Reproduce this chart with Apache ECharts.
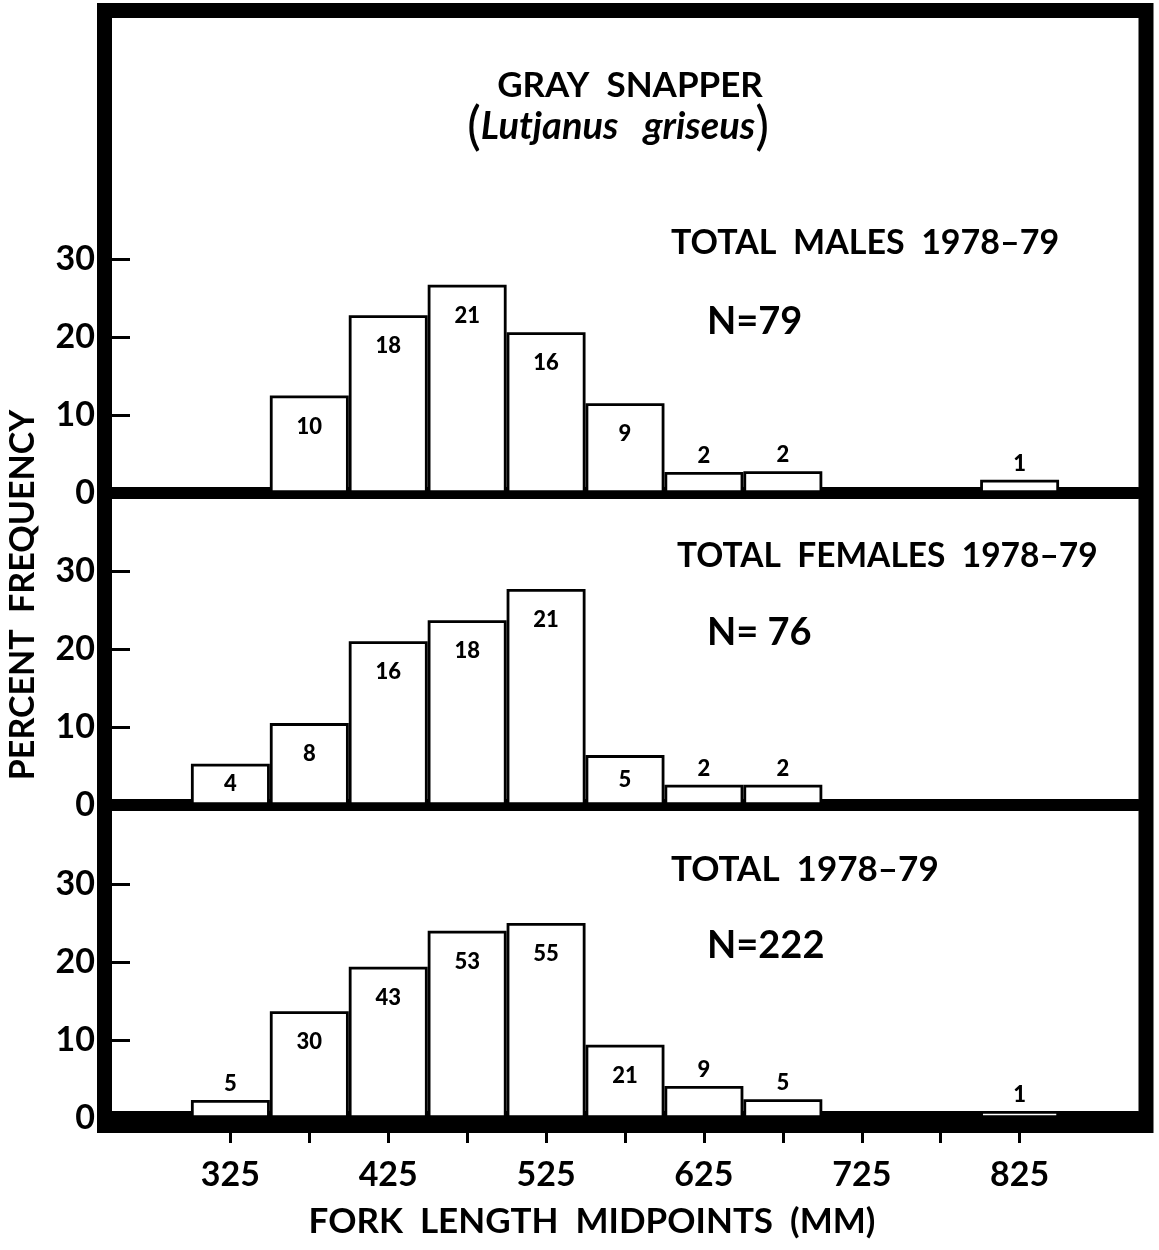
<!DOCTYPE html>
<html>
<head>
<meta charset="utf-8">
<title>Gray Snapper</title>
<script src="https://cdn.jsdelivr.net/npm/echarts@6.0.0/dist/echarts.min.js"></script>
<style>
html, body { margin: 0; padding: 0; background: #fff; }
#chart { width: 1159px; height: 1250px; }
</style>
</head>
<body>
<div id="chart"></div>
<script>
// fork length bins (mm midpoints)
var bins = ['275', '325', '375', '425', '475', '525', '575', '625', '675', '725', '775', '825', '875'];
var tickLabels = ['325', '425', '525', '625', '725', '825'];
var yTicks = [0, 10, 20, 30];

var malesPct = [null, null, 12.5, 22.8, 26.7, 20.6, 11.5, 2.7, 2.8, null, null, 1.7, null];
var malesCount = ['', '', '10', '18', '21', '16', '9', '2', '2', '', '', '1', ''];
var femalesPct = [null, 5.3, 10.5, 21.0, 23.7, 27.7, 6.4, 2.6, 2.6, null, null, null, null];
var femalesCount = ['', '4', '8', '16', '18', '21', '5', '2', '2', '', '', '', ''];
var totalPct = [null, 2.3, 13.7, 19.4, 24.0, 25.0, 9.4, 4.1, 2.4, null, null, 0.9, null];
var totalCount = ['', '5', '30', '43', '53', '55', '21', '9', '5', '', '', '1', ''];

var FONT = 'Lato';

// small bars get the count above, medium ones in the middle, the rest near the top
function labelPos(v) {
  if (v < 5) return { position: 'top', distance: 5 };
  if (v < 8) return { position: 'inside' };
  return { position: 'insideTop', distance: 20 };
}

function barSeries(idx, pct, counts) {
  return {
    type: 'bar',
    xAxisIndex: idx,
    yAxisIndex: idx,
    barCategoryGap: '0%',
    silent: true,
    data: pct.map(function (v) {
      if (v === null) return '-';
      return { value: v, label: labelPos(v) };
    }),
    itemStyle: { color: '#fff', borderColor: '#000', borderWidth: 2.8 },
    label: {
      show: true,
      color: '#000',
      fontSize: 22,
      fontWeight: 900,
      fontFamily: FONT,
      formatter: function (p) { return counts[p.dataIndex]; }
    }
  };
}

function xAxisFor(idx, lineWidth, showTicks) {
  return {
    type: 'category',
    gridIndex: idx,
    data: bins,
    offset: lineWidth / 2,
    axisLine: { lineStyle: { color: '#000', width: lineWidth } },
    axisTick: {
      show: showTicks,
      alignWithLabel: true,
      length: 25,
      interval: function (i) { return i >= 1 && i <= 11; },
      lineStyle: { color: '#000', width: 3 }
    },
    axisLabel: {
      show: showTicks,
      interval: function (i) { return tickLabels.indexOf(bins[i]) >= 0; },
      margin: 33,
      color: '#000',
      fontSize: 34,
      fontWeight: 'bold',
      fontFamily: FONT
    },
    splitLine: { show: false }
  };
}

function yAxisFor(idx) {
  return {
    type: 'value',
    gridIndex: idx,
    min: yTicks[0],
    max: yTicks[yTicks.length - 1],
    interval: 10,
    axisLine: { show: false },
    axisTick: { show: true, inside: true, length: 18, lineStyle: { color: '#000', width: 3 } },
    axisLabel: { margin: 17, color: '#000', fontSize: 34, fontWeight: 'bold', fontFamily: FONT },
    splitLine: { show: false }
  };
}

function label(text, x, y, size, extra) {
  var st = {
    text: text,
    fill: '#000',
    font: 'bold ' + size + 'px ' + FONT,
    align: 'left',
    verticalAlign: 'middle'
  };
  for (var k in extra) st[k] = extra[k];
  return { type: 'text', x: x, y: y, z: 20, style: st };
}

var chart = echarts.init(document.getElementById('chart'));
chart.setOption({
  animation: false,
  backgroundColor: '#fff',
  grid: [
    { left: 112, right: 21, top: 259, height: 234, outerBoundsMode: 'none' },
    { left: 112, right: 21, top: 571, height: 234, outerBoundsMode: 'none' },
    { left: 112, right: 21, top: 884, height: 234, outerBoundsMode: 'none' }
  ],
  xAxis: [xAxisFor(0, 12, false), xAxisFor(1, 12, false), xAxisFor(2, 15, true)],
  yAxis: [yAxisFor(0), yAxisFor(1), yAxisFor(2)],
  series: [
    barSeries(0, malesPct, malesCount),
    barSeries(1, femalesPct, femalesCount),
    barSeries(2, totalPct, totalCount)
  ],
  graphic: [
    // outer frame
    {
      type: 'rect',
      z: 15,
      shape: { x: 104.5, y: 10.5, width: 1041.5, height: 1115 },
      style: { fill: null, stroke: '#000', lineWidth: 15 }
    },
    label('GRAY  SNAPPER', 630, 86, 35, { align: 'center' }),
    {
      type: 'text',
      x: 618, y: 127, z: 20,
      style: {
        text: '{p|(}Lutjanus   griseus{p|)}',
        fill: '#000',
        font: 'italic bold 38px ' + FONT,
        align: 'center',
        verticalAlign: 'middle',
        rich: { p: { fontSize: 52, fontStyle: 'normal', fontWeight: 'normal', fontFamily: FONT } }
      }
    },
    label('TOTAL  MALES  1978–79', 671, 243, 34),
    label('N=79', 707, 322, 38),
    label('TOTAL  FEMALES  1978–79', 677, 556, 33.5),
    label('N= 76', 707, 633, 38),
    label('TOTAL  1978–79', 671, 870, 35),
    label('N=222', 707, 946, 38),
    label('FORK  LENGTH  MIDPOINTS  (MM)', 592, 1222, 35, { align: 'center' }),
    {
      type: 'text',
      x: 23, y: 595, z: 20,
      rotation: Math.PI / 2,
      style: {
        text: 'PERCENT  FREQUENCY',
        fill: '#000',
        font: 'bold 34px ' + FONT,
        align: 'center',
        verticalAlign: 'middle'
      }
    }
  ]
});
</script>
</body>
</html>
